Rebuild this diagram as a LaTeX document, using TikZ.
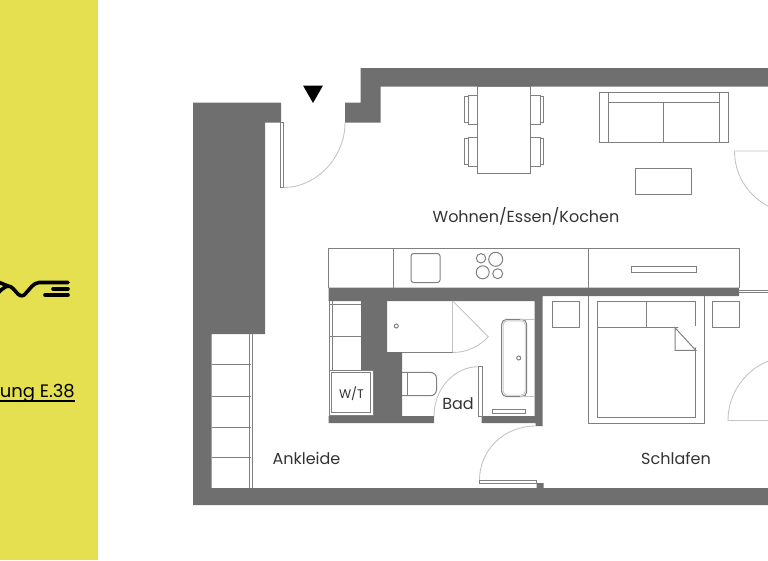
\documentclass[tikz,border=0pt]{standalone}
\usepackage{fontspec}
\setmainfont{Poppins}
\usepackage{xcolor}
\usetikzlibrary{calc}
\usetikzlibrary{positioning}
\definecolor{wallgrey}{HTML}{6F6F6F}
\definecolor{linegrey}{HTML}{808080}
\definecolor{swinggrey}{HTML}{C4C4C4}
\definecolor{bandyellow}{HTML}{E4E04F}
\begin{document}
\begin{tikzpicture}[x=1pt,y=-1pt,line join=miter]
    \tikzstyle{wall}=[fill=wallgrey,draw=none]
    \tikzstyle{fur}=[draw=linegrey,line width=1pt]
    \tikzstyle{swing}=[draw=swinggrey,line width=.9pt]
    \tikzstyle{lab}=[text=black!80,font=\fontsize{16}{18}\selectfont,inner sep=0pt]
    \tikzstyle{logo}=[draw=black,line width=3.6pt,line cap=round,line join=round]
\useasboundingbox (0,0) rectangle (768,560);
\clip (0,0) rectangle (768,560);
\fill[bandyellow] (0,0) rectangle (98,560);
    %walls
\fill[wall] (193,102.5) -- (281,102.5) -- (281,122.5) -- (265,122.5) -- (265,334) -- (211.5,334) -- (211.5,488)
    -- (536.5,488) -- (536.5,483) -- (543.5,483) -- (543.5,488) -- (768,488) -- (768,505) -- (193,505) -- cycle;
\fill[wall] (360.5,68) -- (768,68) -- (768,86.5) -- (380.5,86.5) -- (380.5,122.5) -- (345,122.5) -- (345,102.5) -- (360.5,102.5) -- cycle;
\fill[wall] (328.5,287.5) -- (739,287.5) -- (739,296) -- (542.5,296) -- (542.5,426) -- (535.5,426) -- (535.5,423) -- (481.7,423)
    -- (481.7,416) -- (534.5,416) -- (534.5,301) -- (387,301) -- (387,352) -- (402,352) -- (402,416) -- (434,416) -- (434,423)
    -- (328.5,423) -- (328.5,416) -- (373.3,416) -- (373.3,370) -- (361,370) -- (361,301) -- (328.5,301) -- cycle;
\fill[black] (303,85.5) -- (323,85.5) -- (313,103) -- cycle;
    %doors
\draw[fur] (280.5,122.5) rectangle (283.5,187.5);
\draw[swing] (345,122.5) .. controls (345,158) and (316,187.5) .. (283.5,187.5);
\draw[swing] (768,151) -- (734.5,151) .. controls (734.5,185) and (762,213) .. (796.5,213);
\draw[swing] (768,420.5) -- (728,420.5) .. controls (728,385) and (757,356.5) .. (792,356.5);
\draw[fur] (478.3,366.7) rectangle (482,416);
\draw[swing] (434,416) .. controls (434,389) and (454,366.7) .. (478.3,366.7);
\draw[fur] (479.5,480) rectangle (536.5,483.3);
\draw[swing] (479.5,480) .. controls (479.5,450) and (504,426) .. (535.5,426);
    %table and chairs
\draw[fur] (477.5,86.5) rectangle (530,173.5);
\foreach \ytop in {95,137}{
    \draw[fur] (477.5,\ytop) -- (468,\ytop) -- (468,\ytop+29) -- (477.5,\ytop+29);
    \draw[fur] (468,\ytop+1.5) -- (464.5,\ytop+1.5) -- (464.5,\ytop+27.5) -- (468,\ytop+27.5);
    \draw[fur] (530,\ytop) -- (540,\ytop) -- (540,\ytop+29) -- (530,\ytop+29);
    \draw[fur] (540,\ytop+1.5) -- (543.5,\ytop+1.5) -- (543.5,\ytop+27.5) -- (540,\ytop+27.5);
      }
    %sofa
\draw[fur] (599,92) rectangle (728,142.5);
\draw[fur] (608.5,92) -- (608.5,142.5);
\draw[fur] (719,92) -- (719,142.5);
\draw[fur] (608.5,102) -- (719,102);
\draw[fur] (663.5,102) -- (663.5,142.5);
\draw[fur] (635.5,168) rectangle (691.5,194);
    %kitchen
\draw[fur] (328.5,287.5) -- (328.5,248.5) -- (739,248.5) -- (739,287.5);
\draw[fur] (393,248.5) -- (393,287.5);
\draw[fur] (588.5,248.5) -- (588.5,287.5);
\draw[fur,rounded corners=2.5pt] (411,253.5) rectangle (440,282.5);
\draw[fur] (481,258.3) circle (4.7pt);
\draw[fur] (495.7,259.3) circle (7pt);
\draw[fur] (482.7,272.3) circle (6.5pt);
\draw[fur] (497.7,273.7) circle (5pt);
\draw[fur] (631,266) rectangle (696,272);
    %closet, washer
\draw[fur] (329.5,301) -- (329.5,370);
\draw[fur] (332,301) -- (332,370);
\draw[fur] (329.5,304.3) -- (361,304.3);
\draw[fur] (329.5,336.7) -- (361,336.7);
\draw[fur] (329.5,370) rectangle (373,415.7);
\draw[fur] (331.8,372.7) rectangle (370.7,412.5);
    %bath
\draw[swing] (452.7,301) -- (452.7,352.5);
\draw[fur] (402,352.6) -- (452.7,352.6);
\draw[swing] (452.7,301) -- (488.3,336.7) .. controls (480,346) and (467,352.5) .. (452.7,352.5);
\draw[fur] (396.3,326) circle (2pt);
\draw[fur,rounded corners=6pt] (402,372.4) -- (436.5,372.4) -- (436.5,395.7) -- (402,395.7);
\draw[fur] (407.3,372.4) -- (407.3,395.7);
\draw[fur,rounded corners=5pt] (501.7,319.3) rectangle (526.7,396.7);
\draw[swing,rounded corners=4pt] (503.2,320.8) rectangle (525.2,395.2);
\draw[swing] (520,319.3) -- (534.5,319.3);
\draw[swing] (520,396.7) -- (534.5,396.7);
\draw[fur] (518.7,358) circle (2pt);
\draw[fur] (492,409.3) rectangle (525,413);
    %bed
\draw[fur] (552.7,301.7) rectangle (579,327.7);
\draw[fur] (712.7,301.7) rectangle (739,327.7);
\draw[fur] (588.3,296) -- (588.3,423.7) -- (704.3,423.7) -- (704.3,296);
\draw[fur] (597,301.7) rectangle (695.7,417.7);
\draw[fur] (597,327.7) -- (695.7,327.7);
\draw[fur] (646.3,301.7) -- (646.3,327.7);
\fill[white] (697,326) -- (697,349) -- (677,326) -- cycle;
\draw[fur] (675,327.7) -- (675,350.3) -- (695.7,350.3) -- cycle;
\draw[fur] (739,290) -- (768,290);
\draw[fur] (739,292.7) -- (768,292.7);
    %shelf
\draw[fur] (249.3,334) -- (249.3,488);
\draw[fur] (252.3,334) -- (252.3,488);
\foreach \yshelf in {364.7,396,427,457.7}{
    \draw[fur] (211.5,\yshelf) -- (251,\yshelf);
      }
    %labels
\node[lab] (wohnen) at (526,216.5) {Wohnen/Essen/Kochen};
\node[lab] (ankleide) at (306.5,458) {Ankleide};
\node[lab] (bad) at (458,403.5) {Bad};
\node[lab] (schlafen) at (676,458) {Schlafen};
\node[lab,font=\fontsize{12.5}{14}\selectfont] (wt) at (351.5,394) {W/T};
\node[text=black,font=\fontsize{18}{22}\selectfont,inner sep=0pt,anchor=base east] (unit) at (75,397.5) {ung E.38};
\draw[black,line width=1.2pt] (0,401) -- (75,401);
    %logo
\draw[logo] (-3,294) .. controls (1,290) and (4,287) .. (8,286) .. controls (12,286) and (15,291) .. (18,294)
    .. controls (21,297) and (24,296) .. (26,293) .. controls (30,289) and (33,283) .. (39,282.5) -- (68,282.5);
\draw[logo] (-3,281.5) -- (8,286);
\draw[logo] (53,288.7) -- (68,288.7);
\draw[logo] (45,295) -- (68,295);
   \end{tikzpicture}
\end{document}
